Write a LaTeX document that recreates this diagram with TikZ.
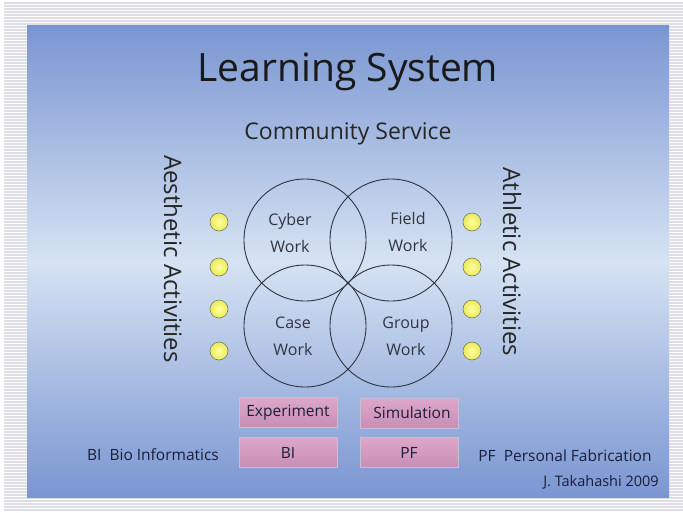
\documentclass[tikz,border=0pt]{standalone}
\usepackage{fontspec}
\setmainfont{Open Sans}

\definecolor{panelblue}{RGB}{122,150,210}
\definecolor{panellight}{RGB}{214,227,243}
\definecolor{stripegray}{RGB}{222,222,230}
\definecolor{ringgray}{RGB}{50,52,64}
\definecolor{dotin}{RGB}{255,255,160}
\definecolor{dotout}{RGB}{234,234,90}
\definecolor{dotrim}{RGB}{120,120,100}
\definecolor{boxtop}{RGB}{220,168,202}
\definecolor{boxmid}{RGB}{238,206,228}
\definecolor{boxbot}{RGB}{200,142,180}
\definecolor{boxrim}{RGB}{200,190,215}
\definecolor{inkblue}{RGB}{26,30,56}

\begin{document}
\begin{tikzpicture}[x=1pt,y=-1pt,line cap=round,line join=round,
  ring/.style={draw=ringgray,line width=0.9pt},
  dot/.style={circle,minimum size=18pt,inner sep=0pt,draw=dotrim,line width=0.6pt,
    inner color=dotin,outer color=dotout},
  tag/.style={rectangle,minimum width=98pt,minimum height=30pt,inner sep=0pt,
    draw=boxrim,line width=0.6pt,top color=boxtop,middle color=boxmid,bottom color=boxbot,
    font=\fontsize{15.5}{18}\selectfont,text=inkblue},
  work/.style={font=\fontsize{16}{27}\selectfont,text=ringgray,align=center},
  side/.style={font=\fontsize{24}{28}\selectfont,text=black!85,rotate=-90},
  note/.style={font=\fontsize{15.5}{18}\selectfont,text=inkblue}]

  \useasboundingbox (0,0) rectangle (683,512);
  \fill[white] (0,0) rectangle (683,512);

  % striped page behind the slide
  \foreach \y in {3,6,...,510}
    \draw[stripegray,line width=1.4pt,line cap=butt] (4,\y) -- (683,\y);

  % slide panel, dark at the edges and light in the middle
  \shade[top color=panelblue,bottom color=panellight] (27,25) rectangle (669,262);
  \shade[top color=panellight,bottom color=panelblue] (27,261) rectangle (669,497);

  \node[font=\fontsize{39}{44}\selectfont,text=black!90] (title) at (348,72) {Learning System};
  \node[font=\fontsize{23}{26}\selectfont,text=black!85] (community) at (348,134) {Community Service};

  % four overlapping rings
  \coordinate (cyber) at (305,240);
  \coordinate (field) at (391,240);
  \coordinate (case)  at (305,326);
  \coordinate (group) at (391,326);
  \foreach \c in {cyber,field,case,group}
    \draw[ring] (\c) circle (61);

  \node[work] (cyberlbl) at (290,233) {Cyber\\Work};
  \node[work] (fieldlbl) at (408,232) {Field\\Work};
  \node[work] (caselbl)  at (293,336) {Case\\Work};
  \node[work] (grouplbl) at (406,336) {Group\\Work};

  % activity dots on both sides
  \foreach \y [count=\k] in {222,267,309,351}{
    \node[dot] (left\k)  at (219,\y) {};
    \node[dot] (right\k) at (472,\y) {};
  }

  \node[side] (aesthetic) at (173,259) {Aesthetic Activities};
  \node[side] (athletic)  at (512,262) {Athletic Activities};

  % method and field boxes
  \node[tag] (experiment) at (288,412.5) {Experiment};
  \node[tag] (simulation) at (409,413) {\hspace{6pt}Simulation};
  \node[tag] (bi) at (288,452.5) {BI};
  \node[tag] (pf) at (409,452.5) {PF};

  \node[note] (bilegend) at (153,455) {BI\ \ Bio Informatics};
  \node[note] (pflegend) at (565,456) {PF\ \ Personal Fabrication};
  \node[font=\fontsize{14.5}{17}\selectfont,text=inkblue] (author) at (601,482) {J. Takahashi 2009};
\end{tikzpicture}
\end{document}
